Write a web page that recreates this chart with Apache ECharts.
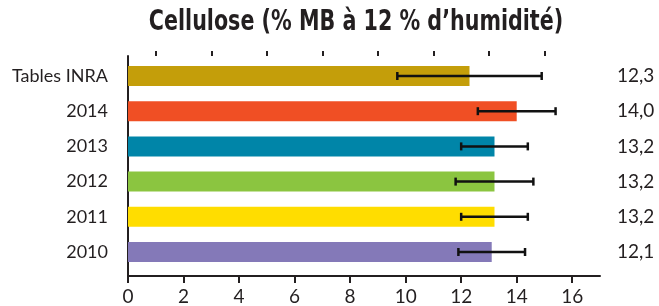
<!DOCTYPE html>
<html>
<head>
<meta charset="utf-8">
<script src="https://cdn.jsdelivr.net/npm/echarts@6/dist/echarts.min.js"></script>
<style>
  html, body { margin: 0; padding: 0; background: #fff; }
  #chart { width: 659px; height: 306px; }
</style>
</head>
<body>
<div id="chart"></div>
<script>
const categories = ['Tables INRA', '2014', '2013', '2012', '2011', '2010']
const barValues = [12.3, 14.0, 13.2, 13.2, 13.2, 13.1]
const valueLabels = ['12,3', '14,0', '13,2', '13,2', '13,2', '12,1']
const errLow = [9.7, 12.6, 12.0, 11.8, 12.0, 11.9]
const errHigh = [14.9, 15.4, 14.4, 14.6, 14.4, 14.3]
const barColors = ['#C49E0A', '#F04F24', '#0085A8', '#8BC540', '#FFDD00', '#8479B8']
const majorTicks = [0, 2, 4, 6, 8, 10, 12, 14, 16]
const minorTicks = [1, 3, 5, 7, 9, 11, 13, 15]

const textColor = '#231f20'
const font = 'Lato, "Open Sans", sans-serif'

const chart = echarts.init(document.getElementById('chart'))

chart.setOption({
  animation: false,
  // condensed bold title, squeezed horizontally to match the original
  graphic: [
    {
      type: 'text',
      x: 356,
      y: 23,
      scaleX: 0.82,
      style: {
        text: 'Cellulose (% MB à 12 % d\u2019humidité)',
        x: 0,
        y: 0,
        textAlign: 'center',
        textVerticalAlign: 'middle',
        fontFamily: '"DejaVu Sans Condensed", "DejaVu Sans", sans-serif',
        fontWeight: 'bold',
        fontSize: 28,
        fill: textColor,
      },
    },
  ],
  grid: [
    { left: 128, right: 59, top: 58.4, bottom: 36.4 },
    { left: 128, right: 59, top: 56, bottom: 30 },
  ],
  xAxis: [
    { gridIndex: 0, type: 'value', min: 0, max: 17, show: false },
    {
      gridIndex: 1,
      type: 'value',
      min: 0,
      max: 17,
      axisLine: { show: true, lineStyle: { color: textColor, width: 2 } },
      axisTick: { show: true, length: 7, customValues: majorTicks, lineStyle: { color: textColor, width: 2 } },
      axisLabel: {
        customValues: majorTicks,
        margin: 11,
        fontFamily: font,
        fontSize: 19,
        color: textColor,
      },
      splitLine: { show: false },
    },
    {
      gridIndex: 1,
      type: 'value',
      min: 0,
      max: 17,
      axisLine: { show: false },
      axisTick: { show: true, length: 5, customValues: minorTicks, lineStyle: { color: textColor, width: 2 } },
      axisLabel: { show: false },
      splitLine: { show: false },
    },
  ],
  yAxis: [
    {
      gridIndex: 0,
      type: 'category',
      inverse: true,
      data: categories,
      axisLine: { show: false },
      axisTick: { show: false },
      axisLabel: { margin: 20, fontFamily: font, fontSize: 18, color: textColor },
    },
    {
      gridIndex: 0,
      type: 'category',
      inverse: true,
      position: 'right',
      data: categories,
      axisLine: { show: false },
      axisTick: { show: false },
      axisLabel: {
        margin: 17,
        fontFamily: font,
        fontSize: 19,
        color: textColor,
        formatter: (v, i) => valueLabels[i],
      },
    },
    {
      gridIndex: 1,
      type: 'value',
      min: 0,
      max: 1,
      axisLine: { show: true, lineStyle: { color: textColor, width: 2 } },
      axisTick: { show: false },
      axisLabel: { show: false },
      splitLine: { show: false },
    },
  ],
  series: [
    {
      type: 'bar',
      xAxisIndex: 0,
      yAxisIndex: 0,
      barWidth: 20,
      data: barValues.map((v, i) => ({ value: v, itemStyle: { color: barColors[i] } })),
    },
    {
      type: 'custom',
      xAxisIndex: 0,
      yAxisIndex: 0,
      data: categories.map((c, i) => [errLow[i], errHigh[i], i]),
      encode: { x: [0, 1], y: 2 },
      z: 10,
      renderItem(params, api) {
        const idx = api.value(2)
        const p1 = api.coord([api.value(0), idx])
        const p2 = api.coord([api.value(1), idx])
        const h = 4
        const style = { stroke: '#111', lineWidth: 2.5 }
        return {
          type: 'group',
          children: [
            { type: 'line', shape: { x1: p1[0], y1: p1[1], x2: p2[0], y2: p2[1] }, style },
            { type: 'line', shape: { x1: p1[0], y1: p1[1] - h, x2: p1[0], y2: p1[1] + h }, style },
            { type: 'line', shape: { x1: p2[0], y1: p2[1] - h, x2: p2[0], y2: p2[1] + h }, style },
          ],
        }
      },
    },
  ],
})
</script>
</body>
</html>
